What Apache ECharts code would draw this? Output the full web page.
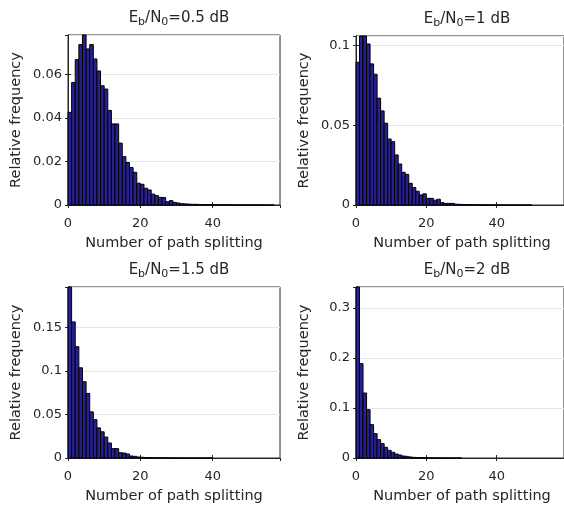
<!DOCTYPE html>
<html>
<head>
<meta charset="utf-8">
<script src="https://cdn.jsdelivr.net/npm/echarts@6/dist/echarts.min.js"></script>
<style>html,body{margin:0;padding:0;background:#fff}#c{width:564px;height:510px}</style>
</head>
<body>
<div id="c"></div>
<script>
// ---- data ----
const snrLabels = ['0.5', '1', '1.5', '2'];
const xLabel = 'Number of path splitting';
const yLabel = 'Relative frequency';
const xMax = 58.6;
const yMaxes = [0.078, 0.106, 0.196, 0.342];
const yIntervals = [0.02, 0.05, 0.05, 0.1];

const freq05 = [0.0425, 0.0562, 0.0667, 0.0736, 0.080, 0.0716, 0.0736, 0.067, 0.0615, 0.0547,
  0.0532, 0.0434, 0.0372, 0.0372, 0.0284, 0.0222, 0.0195, 0.0172, 0.015, 0.0100,
  0.0095, 0.0077, 0.0069, 0.0050, 0.0043, 0.0035, 0.0034, 0.0015, 0.0020, 0.0012,
  0.0009, 0.0006, 0.0005, 0.0004, 0.0003, 0.0003, 0.0002, 0.0002, 0.0001, 0.0002,
  0.0001, 0.0001, 0.0001, 0.00005, 0.0001, 0.00005, 0, 0.00005, 0.00005, 0,
  0.00005, 0, 0, 0.00005, 0, 0, 0];
const freq1 = [0.0895, 0.108, 0.108, 0.101, 0.0885, 0.082, 0.067, 0.059, 0.0513, 0.0414,
  0.0397, 0.0314, 0.0257, 0.0205, 0.0192, 0.0136, 0.011, 0.0086, 0.0063, 0.007,
  0.0042, 0.0042, 0.003, 0.0036, 0.0015, 0.001, 0.001, 0.001, 0.0005, 0.0004,
  0.0003, 0.0002, 0.0002, 0.0001, 0.0001, 0.0001, 0.00005, 0.00005, 0.00005, 0,
  0.00005, 0, 0, 0, 0, 0, 0, 0, 0, 0];
const freq15 = [0.205, 0.156, 0.1276, 0.1034, 0.0874, 0.074, 0.0529, 0.044, 0.0345, 0.030,
  0.024, 0.0172, 0.0107, 0.0107, 0.006, 0.0057, 0.0046, 0.0023, 0.0019, 0.0011,
  0.0008, 0.0005, 0.0004, 0.0003, 0.0002, 0.0001, 0.0001, 0.00005, 0.00005, 0,
  0.00005, 0, 0, 0, 0, 0, 0, 0, 0, 0];
const freq2 = [0.345, 0.1887, 0.13, 0.0967, 0.0667, 0.0487, 0.0367, 0.0287, 0.0213, 0.0153,
  0.0113, 0.008, 0.006, 0.004, 0.0033, 0.002, 0.0013, 0.0009, 0.0006, 0.0004,
  0.0003, 0.0002, 0.0001, 0.00005, 0.00005, 0, 0, 0, 0, 0];
const allFreq = [freq05, freq1, freq15, freq2];

// ---- layout ----
const grids = [
  {left: 68, top: 35, width: 212, height: 170},
  {left: 356, top: 36, width: 214, height: 169},
  {left: 68, top: 287, width: 212, height: 171},
  {left: 356, top: 287, width: 214, height: 171}
];
const FONT = 'DejaVu Sans';
const TXT = '#262626';
const BAR_FILL = '#27208f';

const chart = echarts.init(document.getElementById('c'), null, {renderer: 'canvas'});

function renderItem(params, api) {
  const x = api.value(0), y = api.value(1);
  const p0 = api.coord([x, y]);
  const p1 = api.coord([x + 1, 0]);
  const shape = echarts.graphic.clipRectByRect({
    x: p0[0], y: p0[1], width: p1[0] - p0[0], height: p1[1] - p0[1]
  }, {
    x: params.coordSys.x, y: params.coordSys.y,
    width: params.coordSys.width, height: params.coordSys.height
  });
  if (!shape) return;
  return {type: 'rect', shape: shape,
    style: {fill: BAR_FILL, stroke: '#000', lineWidth: 1}};
}

const option = {
  animation: false,
  backgroundColor: '#fff',
  title: [], grid: [], xAxis: [], yAxis: [], series: [], graphic: []
};

const xScale = 212 / xMax;
grids.forEach((g, i) => {
  option.grid.push(Object.assign({show: true, borderColor: TXT, borderWidth: 1, backgroundColor: 'transparent'}, g));
  option.title.push({
    text: '{m|E}{s|b}{m|/N}{s|0}{m|=' + snrLabels[i] + ' dB}',
    left: g.left + 106,
    top: g.top - 29,
    textAlign: 'center',
    textStyle: {
      fontWeight: 'normal',
      rich: {
        m: {fontFamily: FONT, fontSize: 15, fontWeight: 'normal', color: TXT, lineHeight: 17, verticalAlign: 'top'},
        s: {fontFamily: FONT, fontSize: 11, fontWeight: 'normal', color: TXT, lineHeight: 11, padding: [9, 0, 0, 0], verticalAlign: 'bottom'}
      }
    }
  });
  const thisMax = g.width / xScale;
  // bottom x axis
  option.xAxis.push({
    type: 'value', gridIndex: i, min: 0, max: thisMax, interval: 20,
    position: 'bottom',
    axisLine: {show: true, lineStyle: {color: TXT}},
    axisTick: {show: true, inside: true, length: 3, lineStyle: {color: TXT}},
    axisLabel: {fontFamily: FONT, fontSize: 13, color: TXT, margin: 12, showMaxLabel: false},
    splitLine: {show: false}
  });
  // top x axis (ticks only)
  option.xAxis.push({
    type: 'value', gridIndex: i, min: 0, max: thisMax, interval: 20,
    position: 'top',
    axisLine: {show: true, lineStyle: {color: TXT}},
    axisTick: {show: true, inside: true, length: 3, lineStyle: {color: TXT}},
    axisLabel: {show: false}, splitLine: {show: false}
  });
  option.yAxis.push({
    type: 'value', gridIndex: i, min: 0, max: yMaxes[i], interval: yIntervals[i],
    position: 'left',
    name: yLabel, nameLocation: 'middle', nameGap: 44,
    nameTextStyle: {fontFamily: FONT, fontSize: 14.5, color: TXT},
    axisLine: {show: true, lineStyle: {color: TXT}},
    axisTick: {show: true, inside: true, length: 3, lineStyle: {color: TXT}},
    axisLabel: {fontFamily: FONT, fontSize: 13, color: TXT, margin: 6, showMaxLabel: false},
    splitLine: {show: true, lineStyle: {color: '#e6e6e6', width: 1}}
  });
  option.yAxis.push({
    type: 'value', gridIndex: i, min: 0, max: yMaxes[i], interval: yIntervals[i],
    position: 'right',
    axisLine: {show: true, lineStyle: {color: TXT}},
    axisTick: {show: true, inside: true, length: 3, lineStyle: {color: TXT}},
    axisLabel: {show: false}, splitLine: {show: false}
  });
  option.series.push({
    type: 'custom',
    xAxisIndex: 2 * i, yAxisIndex: 2 * i,
    renderItem: renderItem,
    encode: {x: 0, y: 1},
    data: allFreq[i].map((v, k) => [k, v]),
    z: 1
  });
  option.graphic.push({
    type: 'text',
    x: g.left + 106, y: g.top + g.height + 38,
    style: {text: xLabel, font: '14.5px "DejaVu Sans"', fill: TXT, align: 'center', verticalAlign: 'middle'}
  });
});

chart.setOption(option);
</script>
</body>
</html>
